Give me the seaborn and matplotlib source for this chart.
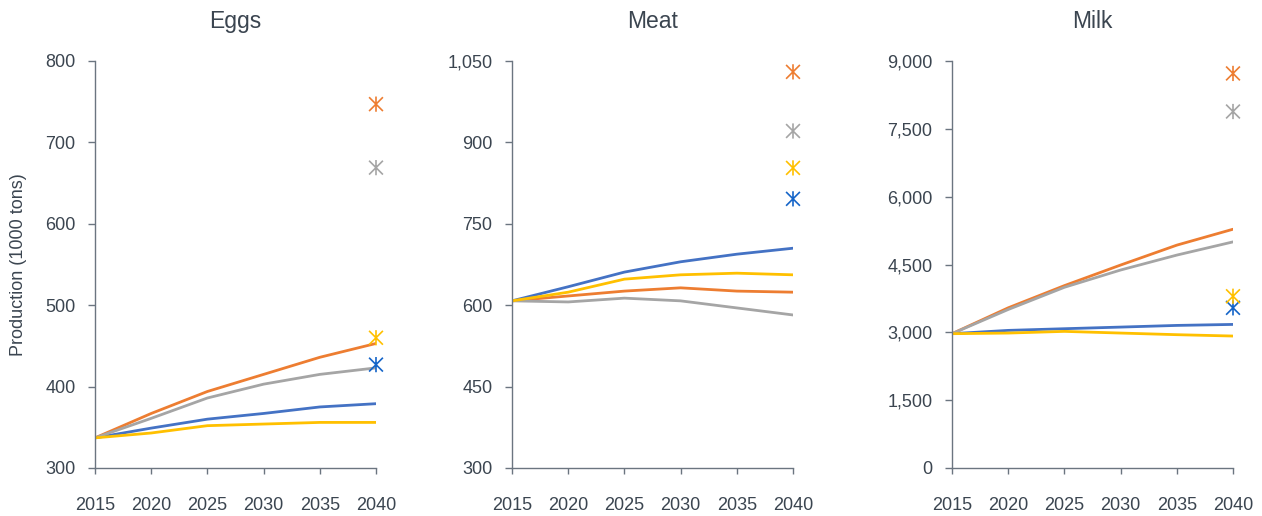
import numpy as np
import pandas as pd
import matplotlib
matplotlib.use("Agg")
import matplotlib.pyplot as plt
from matplotlib.path import Path
from matplotlib.ticker import StrMethodFormatter
import seaborn as sns

# ─── Data ────────────────────────────────────────────────────────────────────
years = [2015, 2020, 2025, 2030, 2035, 2040]
series = ["Scenario 1", "Scenario 2", "Scenario 3", "Scenario 4"]
target_year = 2040

eggs_s1 = [337, 349, 360, 367, 375, 379]
eggs_s2 = [337, 367, 394, 415, 436, 453]
eggs_s3 = [337, 361, 386, 403, 415, 423]
eggs_s4 = [337, 343, 352, 354, 356, 356]
eggs_target = [427, 747, 669, 460]

meat_s1 = [608, 634, 661, 680, 694, 705]
meat_s2 = [608, 617, 626, 632, 626, 624]
meat_s3 = [608, 606, 613, 608, 595, 582]
meat_s4 = [608, 624, 648, 656, 659, 656]
meat_target = [796, 1030, 921, 853]

milk_s1 = [2970, 3043, 3080, 3116, 3153, 3175]
milk_s2 = [2970, 3542, 4033, 4488, 4928, 5280]
milk_s3 = [2970, 3505, 3996, 4378, 4708, 5000]
milk_s4 = [2970, 2984, 3021, 2984, 2948, 2918]
milk_target = [3542, 8725, 7883, 3798]

panel_titles = ["Eggs", "Meat", "Milk"]
y_ticks = [np.arange(300, 801, 100), np.arange(300, 1051, 150), np.arange(0, 9001, 1500)]

# ─── Style ───────────────────────────────────────────────────────────────────
TEXT = "#3b4550"
line_pal = dict(zip(series, ["#4472C4", "#ED7D31", "#A5A5A5", "#FFC000"]))
star_pal = dict(zip(series, ["#1565C8", "#ED7D31", "#A5A5A5", "#FFC000"]))

sns.set_theme(style="white")
plt.rcParams.update({
    "font.family": ["Liberation Sans", "DejaVu Sans"],
    "text.color": TEXT,
    "axes.labelcolor": TEXT,
    "xtick.color": "#6b7580",
    "ytick.color": "#6b7580",
    "xtick.labelcolor": TEXT,
    "ytick.labelcolor": TEXT,
})

# asterisk-like marker: X with a vertical stroke
star = Path(
    [(-1, -1), (1, 1), (-1, 1), (1, -1), (0, -1.1), (0, 1.1)],
    [Path.MOVETO, Path.LINETO, Path.MOVETO, Path.LINETO, Path.MOVETO, Path.LINETO],
)


def long_form(s1, s2, s3, s4):
    rows = []
    for name, vals in zip(series, [s1, s2, s3, s4]):
        for yr, v in zip(years, vals):
            rows.append({"year": yr, "series": name, "value": v})
    return pd.DataFrame(rows)


panels = [
    (long_form(eggs_s1, eggs_s2, eggs_s3, eggs_s4), eggs_target),
    (long_form(meat_s1, meat_s2, meat_s3, meat_s4), meat_target),
    (long_form(milk_s1, milk_s2, milk_s3, milk_s4), milk_target),
]

fig = plt.figure(figsize=(12.62, 5.16), dpi=100)
lefts = [95, 512, 952]

for i, ((df, target), title, yt) in enumerate(zip(panels, panel_titles, y_ticks)):
    ax = fig.add_axes([lefts[i] / 1262, 48 / 516, 281 / 1262, 407 / 516])
    sns.lineplot(data=df, x="year", y="value", hue="series", palette=line_pal,
                 linewidth=2.0, legend=False, ax=ax)
    tdf = pd.DataFrame({"year": [target_year] * len(series),
                        "series": series, "value": target})
    sns.scatterplot(data=tdf, x="year", y="value", hue="series", palette=star_pal,
                    marker=star, s=120, edgecolor="face", linewidth=1.2,
                    legend=False, clip_on=False, zorder=5, ax=ax)

    ax.set_xlim(2015, 2040)
    ax.set_ylim(yt[0], yt[-1])
    ax.set_xticks(years)
    ax.set_yticks(yt)
    ax.yaxis.set_major_formatter(StrMethodFormatter("{x:,.0f}"))
    ax.tick_params(axis="x", direction="out", length=4, width=1, pad=17, labelsize=13)
    ax.tick_params(axis="y", direction="out", length=5, width=1, pad=9, labelsize=13)
    ax.xaxis.set_ticks_position("bottom")
    ax.yaxis.set_ticks_position("left")
    for side in ["top", "right"]:
        ax.spines[side].set_visible(False)
    for side in ["left", "bottom"]:
        ax.spines[side].set_color("#6b7580")
        ax.spines[side].set_linewidth(1.0)
    ax.set_title(title, fontsize=16.5, color=TEXT, pad=24)
    ax.set_xlabel("")
    ax.set_ylabel("Production (1000 tons)" if i == 0 else "", fontsize=13, labelpad=13)

fig.savefig("out.png", dpi=100, facecolor="white")
